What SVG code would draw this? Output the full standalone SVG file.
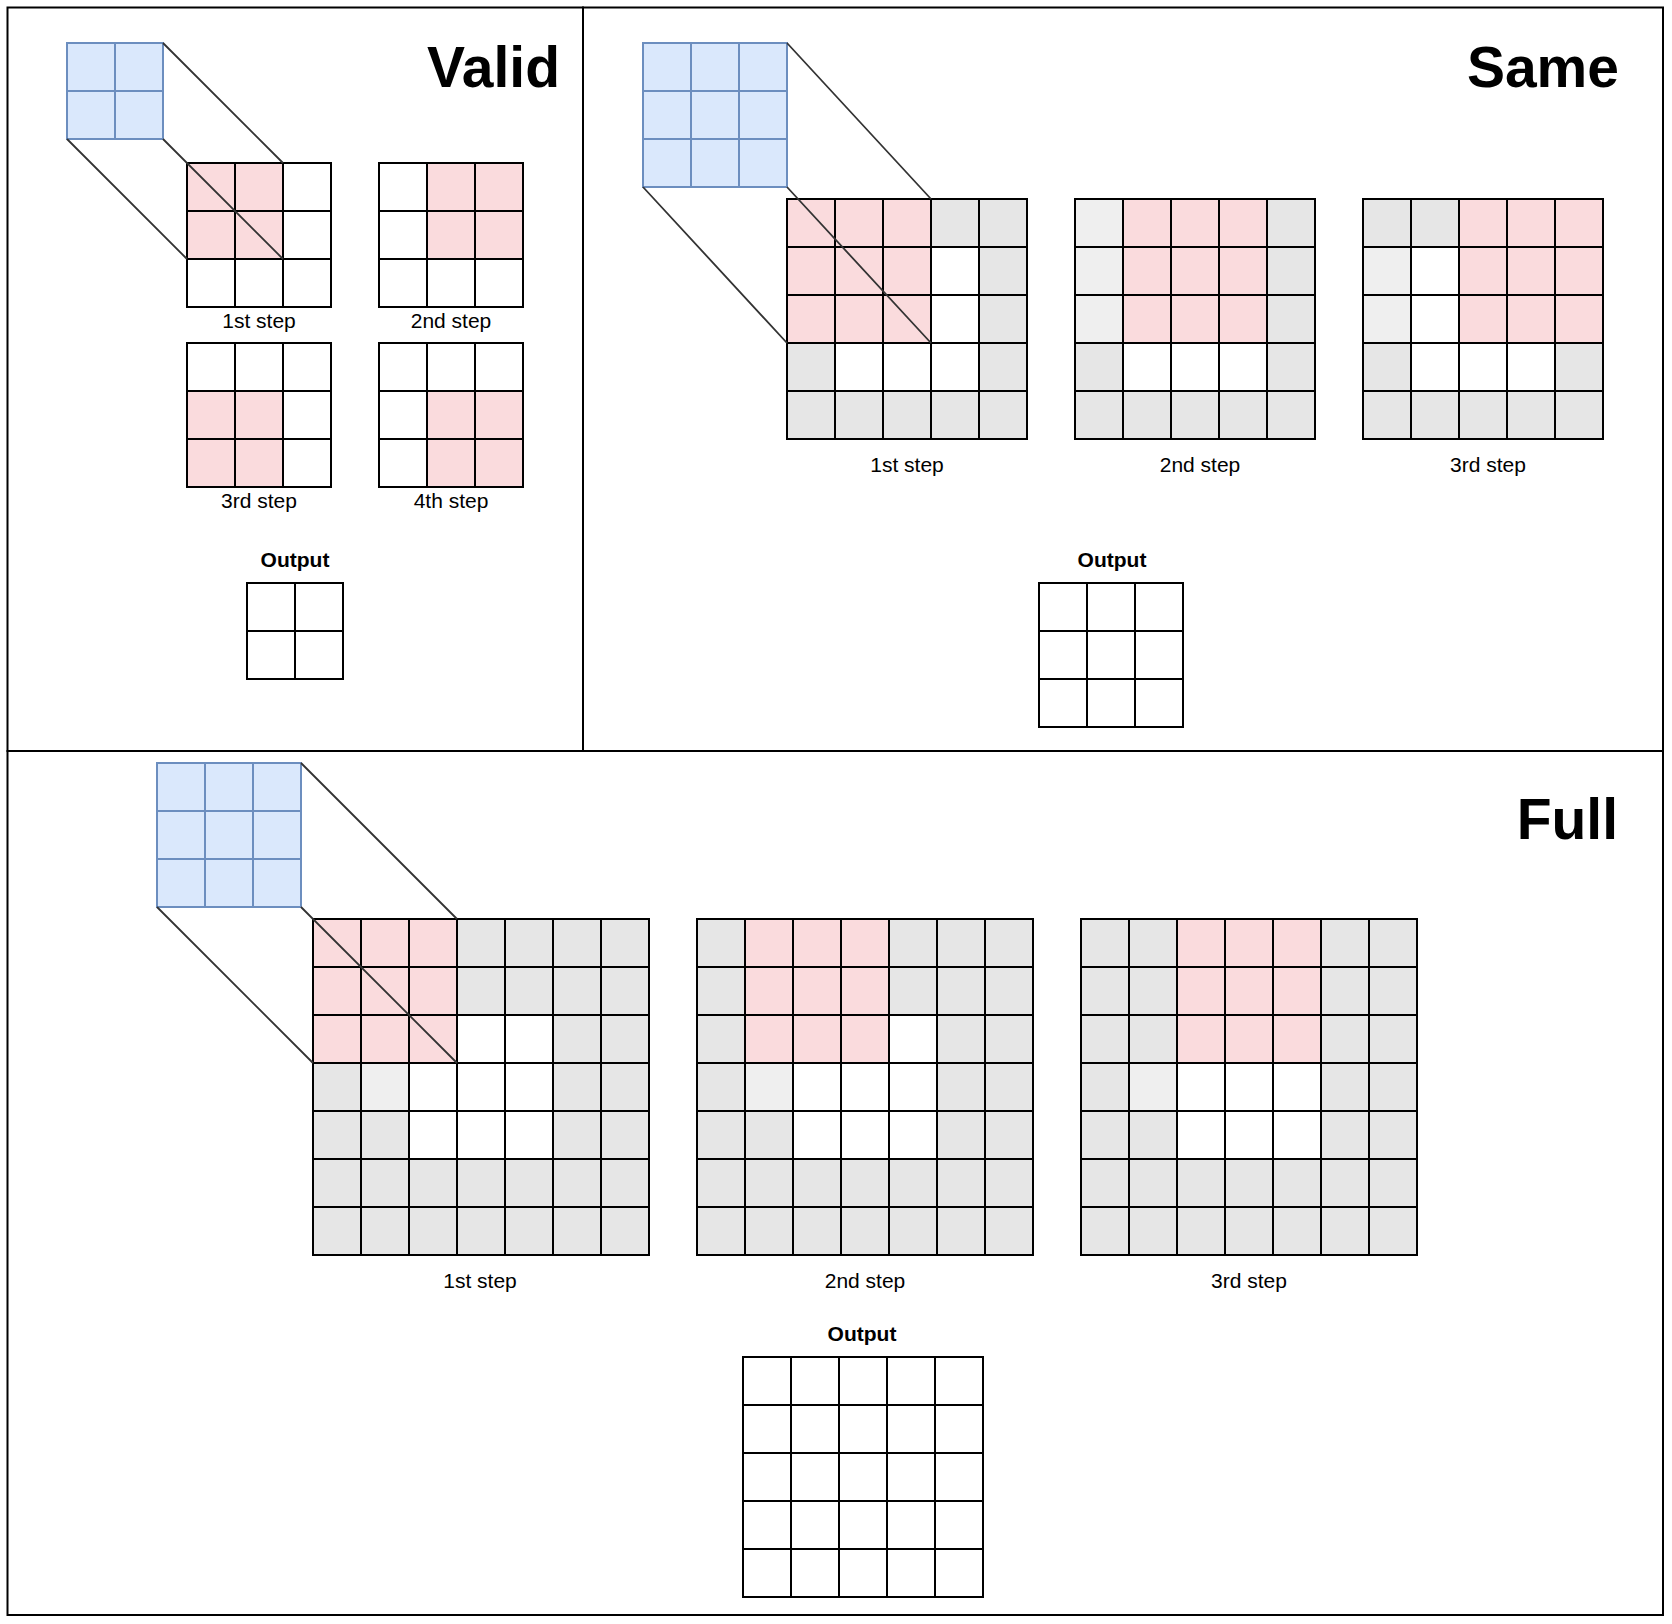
<svg xmlns="http://www.w3.org/2000/svg" width="1672" height="1624" viewBox="0 0 1672 1624">
<style>
.frame{fill:none;stroke:#000;stroke-width:2}
.w{fill:#fff}
.g{fill:#e6e6e6}
.l{fill:#efefef}
.p{fill:#fadbdd}
.b{fill:#dae8fc}
.gl{fill:none;stroke:#000;stroke-width:2}
.bl{fill:none;stroke:#6c8ebf;stroke-width:2}
.cn{fill:none;stroke:#333;stroke-width:1.8}
.lbl{font-family:"Liberation Sans",Arial,Helvetica,sans-serif;font-size:21px;fill:#000;text-anchor:middle}
.out{font-family:"Liberation Sans",Arial,Helvetica,sans-serif;font-size:21px;font-weight:bold;fill:#000;text-anchor:middle}
.ttl{font-family:"Liberation Sans",Arial,Helvetica,sans-serif;font-size:57px;font-weight:bold;fill:#000;text-anchor:end}
</style>
<defs>
<path id="g2" d="M48 0V96M0 48H96M0 0H96V96H0Z"/>
<path id="g3" d="M48 0V144M96 0V144M0 48H144M0 96H144M0 0H144V144H0Z"/>
<path id="g5" d="M48 0V240M96 0V240M144 0V240M192 0V240M0 48H240M0 96H240M0 144H240M0 192H240M0 0H240V240H0Z"/>
<path id="g7" d="M48 0V336M96 0V336M144 0V336M192 0V336M240 0V336M288 0V336M0 48H336M0 96H336M0 144H336M0 192H336M0 240H336M0 288H336M0 0H336V336H0Z"/>
</defs>

<g id="panels">
<rect class="frame" x="7.5" y="7.5" width="575.5" height="743.5"/>
<rect class="frame" x="583" y="7.5" width="1080" height="743.5"/>
<rect class="frame" x="7.5" y="751" width="1655.5" height="864"/>
</g>

<!-- VALID -->
<g id="valid-title"><text class="ttl" x="560" y="87">Valid</text></g>
<g id="valid-kernel" transform="translate(67,43)">
<rect class="b" width="96" height="96"/><use href="#g2" class="bl"/>
</g>
<g id="valid-step1" transform="translate(187,163)">
<rect class="w" width="144" height="144"/>
<rect class="p" x="0" y="0" width="96" height="96"/>
<use href="#g3" class="gl"/>
</g>
<g id="valid-step2" transform="translate(379,163)">
<rect class="w" width="144" height="144"/>
<rect class="p" x="48" y="0" width="96" height="96"/>
<use href="#g3" class="gl"/>
</g>
<g id="valid-step3" transform="translate(187,343)">
<rect class="w" width="144" height="144"/>
<rect class="p" x="0" y="48" width="96" height="96"/>
<use href="#g3" class="gl"/>
</g>
<g id="valid-step4" transform="translate(379,343)">
<rect class="w" width="144" height="144"/>
<rect class="p" x="48" y="48" width="96" height="96"/>
<use href="#g3" class="gl"/>
</g>
<g id="valid-labels">
<text class="lbl" x="259" y="328">1st step</text>
<text class="lbl" x="451" y="328">2nd step</text>
<text class="lbl" x="259" y="508">3rd step</text>
<text class="lbl" x="451" y="508">4th step</text>
</g>
<g id="valid-output">
<text class="out" x="295" y="567">Output</text>
<g transform="translate(247,583)"><rect class="w" width="96" height="96"/><use href="#g2" class="gl"/></g>
</g>

<!-- SAME -->
<g id="same-title"><text class="ttl" x="1619" y="87">Same</text></g>
<g id="same-kernel" transform="translate(643,43)">
<rect class="b" width="144" height="144"/><use href="#g3" class="bl"/>
</g>
<g id="same-step1" transform="translate(787,199)">
<rect class="g" width="240" height="240"/>
<rect class="p" x="0" y="0" width="144" height="144"/>
<rect class="w" x="144" y="48" width="48" height="96"/>
<rect class="w" x="48" y="144" width="144" height="48"/>
<use href="#g5" class="gl"/>
</g>
<g id="same-step2" transform="translate(1075,199)">
<rect class="g" width="240" height="240"/>
<rect class="l" x="0" y="0" width="48" height="144"/>
<rect class="p" x="48" y="0" width="144" height="144"/>
<rect class="w" x="48" y="144" width="144" height="48"/>
<use href="#g5" class="gl"/>
</g>
<g id="same-step3" transform="translate(1363,199)">
<rect class="g" width="240" height="240"/>
<rect class="p" x="96" y="0" width="144" height="144"/>
<rect class="l" x="0" y="48" width="48" height="96"/>
<rect class="w" x="48" y="48" width="48" height="96"/>
<rect class="w" x="48" y="144" width="144" height="48"/>
<use href="#g5" class="gl"/>
</g>
<g id="same-labels">
<text class="lbl" x="907" y="472">1st step</text>
<text class="lbl" x="1200" y="472">2nd step</text>
<text class="lbl" x="1488" y="472">3rd step</text>
</g>
<g id="same-output">
<text class="out" x="1112" y="567">Output</text>
<g transform="translate(1039,583)"><rect class="w" width="144" height="144"/><use href="#g3" class="gl"/></g>
</g>

<!-- FULL -->
<g id="full-title"><text class="ttl" x="1618" y="839">Full</text></g>
<g id="full-kernel" transform="translate(157,763)">
<rect class="b" width="144" height="144"/><use href="#g3" class="bl"/>
</g>
<g id="full-step1" transform="translate(313,919)">
<rect class="g" width="336" height="336"/>
<rect class="p" x="0" y="0" width="144" height="144"/>
<rect class="w" x="144" y="96" width="96" height="48"/>
<rect class="w" x="96" y="144" width="144" height="96"/>
<rect class="l" x="48" y="144" width="48" height="48"/>
<use href="#g7" class="gl"/>
</g>
<g id="full-step2" transform="translate(697,919)">
<rect class="g" width="336" height="336"/>
<rect class="p" x="48" y="0" width="144" height="144"/>
<rect class="w" x="192" y="96" width="48" height="48"/>
<rect class="w" x="96" y="144" width="144" height="96"/>
<rect class="l" x="48" y="144" width="48" height="48"/>
<use href="#g7" class="gl"/>
</g>
<g id="full-step3" transform="translate(1081,919)">
<rect class="g" width="336" height="336"/>
<rect class="p" x="96" y="0" width="144" height="144"/>
<rect class="w" x="96" y="144" width="144" height="96"/>
<rect class="l" x="48" y="144" width="48" height="48"/>
<use href="#g7" class="gl"/>
</g>
<g id="full-labels">
<text class="lbl" x="480" y="1288">1st step</text>
<text class="lbl" x="865" y="1288">2nd step</text>
<text class="lbl" x="1249" y="1288">3rd step</text>
</g>
<g id="full-output">
<text class="out" x="862" y="1341">Output</text>
<g transform="translate(743,1357)"><rect class="w" width="240" height="240"/><use href="#g5" class="gl"/></g>
</g>

<g id="connectors">
<path class="cn" d="M163 43L283 163M67 139L187 259M163 139L283 259"/>
<path class="cn" d="M787 43L931 199M643 187L787 343M787 187L931 343"/>
<path class="cn" d="M301 763L457 919M157 907L313 1063M301 907L457 1063"/>
</g>
</svg>
